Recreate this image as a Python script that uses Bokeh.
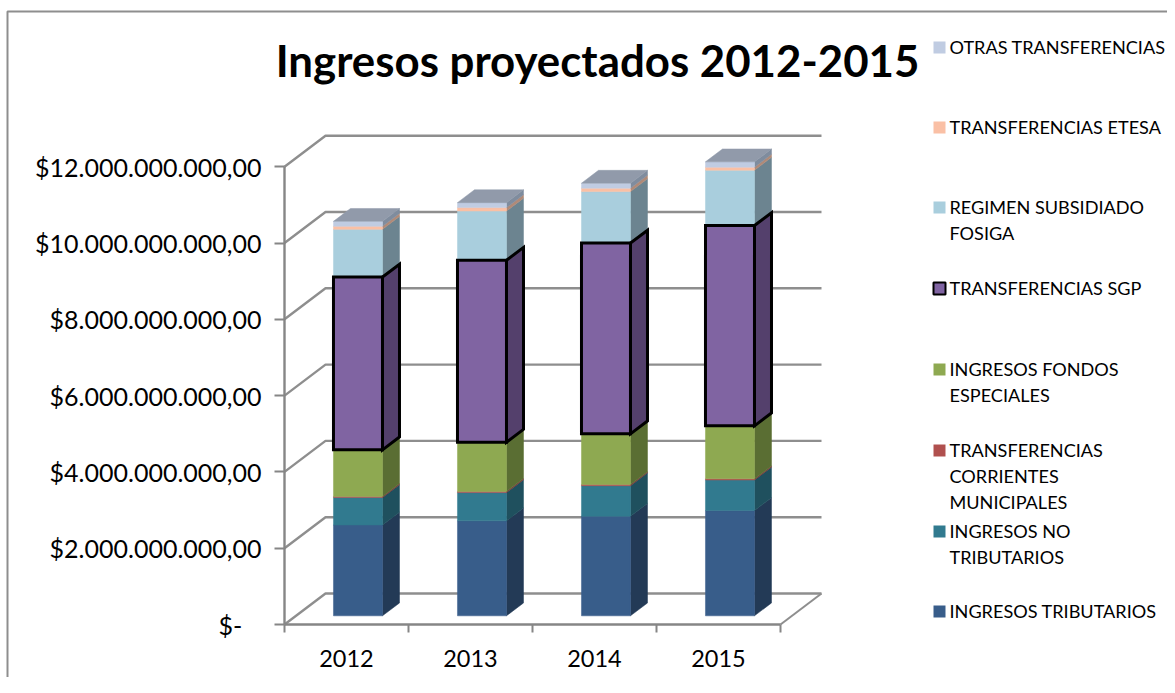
from bokeh.plotting import figure
from bokeh.models import FixedTicker, Range1d, Label
from bokeh.embed import file_html
from bokeh.resources import INLINE

years = ["2012", "2013", "2014", "2015"]
ingresos_tributarios = [2.38e9, 2.49e9, 2.61e9, 2.76e9]
ingresos_no_tributarios = [0.72e9, 0.74e9, 0.80e9, 0.80e9]
transf_corrientes = [0.03e9, 0.03e9, 0.03e9, 0.03e9]
fondos_especiales = [1.22e9, 1.29e9, 1.33e9, 1.39e9]
transf_sgp = [4.53e9, 4.77e9, 5.00e9, 5.25e9]
regimen_subsidiado = [1.25e9, 1.29e9, 1.35e9, 1.45e9]
transf_etesa = [0.08e9, 0.09e9, 0.09e9, 0.08e9]
otras_transf = [0.13e9, 0.13e9, 0.13e9, 0.14e9]
y_ticks = [0, 2e9, 4e9, 6e9, 8e9, 10e9, 12e9]
y_labels = ["$-\u00a0\u00a0\u00a0", "$2.000.000.000,00", "$4.000.000.000,00", "$6.000.000.000,00",
            "$8.000.000.000,00", "$10.000.000.000,00", "$12.000.000.000,00"]
title_text = "Ingresos proyectados 2012-2015"

series = [
    (ingresos_tributarios, "#385D8A", "#233A56"),
    (ingresos_no_tributarios, "#317A8F", "#1F505E"),
    (transf_corrientes, "#B0504E", "#7A3836"),
    (fondos_especiales, "#8EA951", "#5A6E33"),
    (transf_sgp, "#8064A2", "#54406C"),
    (regimen_subsidiado, "#A9CEDD", "#6C8490"),
    (transf_etesa, "#FAC0A5", "#B08A78"),
    (otras_transf, "#C0CCE2", "#7F8C9E"),
]
top_color = "#919AAA"
grid_color = "#8E8E8E"

legend_items = [
    (["OTRAS TRANSFERENCIAS"], "#C0CCE2", None),
    (["TRANSFERENCIAS ETESA"], "#FAC0A5", None),
    (["REGIMEN SUBSIDIADO", "FOSIGA"], "#A9CEDD", None),
    (["TRANSFERENCIAS SGP"], "#8064A2", "black"),
    (["INGRESOS FONDOS", "ESPECIALES"], "#8EA951", None),
    (["TRANSFERENCIAS", "CORRIENTES", "MUNICIPALES"], "#B0504E", None),
    (["INGRESOS NO", "TRIBUTARIOS"], "#317A8F", None),
    (["INGRESOS TRIBUTARIOS"], "#385D8A", None),
]
legend_y = [46, 126, 206, 287, 368, 449, 530, 610]
LINE_H = 26

# pixel geometry, measured from the top left of the picture
W, H = 1167, 677
PX_X0, PX_CAT = 346.0, 124.0     # x of first category, spacing
PX_Y0, PX_VAL = 624.0, 38.15e-9  # y of zero, px per peso
DX_CAT = 41.0 / PX_CAT           # full depth in category units
DY_VAL = 31.0 / PX_VAL           # full depth in value units
BAR_HALF = 24.5 / PX_CAT
D0, D1 = 0.28, 0.695             # bar depth extent

def px_x(px):
    return (px - PX_X0) / PX_CAT

def px_y(py):
    return (PX_Y0 - py) / PX_VAL

p = figure(width=W, height=H, output_backend="svg", toolbar_location=None,
           x_range=Range1d(px_x(0), px_x(W)),
           y_range=Range1d(px_y(H), px_y(0)),
           min_border=0, background_fill_color="white", border_fill_color="white")
p.outline_line_color = None
p.grid.visible = False

# chart frame
p.line([px_x(7), px_x(7), px_x(W)], [px_y(H), px_y(11), px_y(11)],
       line_color=grid_color, line_width=2)

# walls
left, right = -0.5, 3.5
for v in y_ticks:
    p.line([left, left + DX_CAT, right + DX_CAT],
           [v, v + DY_VAL, v + DY_VAL], line_color=grid_color, line_width=2.4)
p.line([right, right + DX_CAT], [0, DY_VAL], line_color=grid_color, line_width=2)

def pt(i, v, d, side):
    return i + side * BAR_HALF + d * DX_CAT, v + d * DY_VAL

def quad(points):
    return [q[0] for q in points], [q[1] for q in points]

base = [0.0] * len(years)
drawn = []
for values, front, side in series:
    drawn.append((list(base), values, front, side))
    base = [b + v for b, v in zip(base, values)]

def draw(b, values, front, side, lc, lw):
    for i in range(len(years)):
        lo, hi = b[i], b[i] + values[i]
        xs, ys = quad([pt(i, lo, D0, 1), pt(i, lo, D1, 1), pt(i, hi, D1, 1), pt(i, hi, D0, 1)])
        p.patch(xs, ys, fill_color=side, line_color=lc or side, line_width=lw, line_join="miter")
        xs, ys = quad([pt(i, lo, D0, -1), pt(i, lo, D0, 1), pt(i, hi, D0, 1), pt(i, hi, D0, -1)])
        p.patch(xs, ys, fill_color=front, line_color=lc or front, line_width=lw, line_join="miter")

for k, (b, values, front, side) in enumerate(drawn):
    if k != 4:
        draw(b, values, front, side, None, 0.5)

for i in range(len(years)):
    hi = base[i]
    xs, ys = quad([pt(i, hi, D0, -1), pt(i, hi, D0, 1), pt(i, hi, D1, 1), pt(i, hi, D1, -1)])
    p.patch(xs, ys, fill_color=top_color, line_color=top_color, line_width=0.5)

b, values, front, side = drawn[4]
draw(b, values, front, side, "black", 3)

# axes
FONT = "Lato"
GREY = "#868686"
ya = p.yaxis[0]
ya.fixed_location = left
ya.bounds = (0, 12e9)
ya.ticker = FixedTicker(ticks=y_ticks)
ya.major_label_overrides = {float(t) if t else 0: l for t, l in zip(y_ticks, y_labels)}
ya.major_tick_out = 10
ya.major_tick_in = 0
ya.minor_tick_line_color = None
ya.major_tick_line_color = GREY
ya.major_tick_line_width = 2
ya.axis_line_color = GREY
ya.axis_line_width = 2.4
ya.major_label_text_font = FONT
ya.major_label_text_font_size = "25px"
ya.major_label_text_color = "black"
ya.major_label_standoff = 13

xa = p.xaxis[0]
xa.fixed_location = 0
xa.bounds = (left, right)
xa.ticker = FixedTicker(ticks=list(range(len(years))),
                        minor_ticks=[left + i for i in range(len(years) + 1)])
xa.major_label_overrides = {i: y for i, y in enumerate(years)}
xa.major_tick_line_color = None
xa.major_tick_out = 0
xa.major_tick_in = 0
xa.minor_tick_out = 8
xa.minor_tick_in = 0
xa.minor_tick_line_color = GREY
xa.minor_tick_line_width = 2
xa.axis_line_color = GREY
xa.axis_line_width = 2.4
xa.major_label_text_font = FONT
xa.major_label_text_font_size = "23.5px"
xa.major_label_text_color = "black"
xa.major_label_standoff = 17

# title
p.add_layout(Label(x=px_x(597), y=px_y(59), text=title_text, text_font=FONT,
                   text_font_style="bold", text_font_size="43.8px", text_color="black",
                   text_align="center", text_baseline="middle"))

# legend
for (lines, color, outline), y0 in zip(legend_items, legend_y):
    p.scatter([px_x(939)], [px_y(y0 + 1)], marker="square", size=12, fill_color=color,
              line_color=outline or color, line_width=2 if outline else 0)
    for j, text in enumerate(lines):
        p.add_layout(Label(x=px_x(949), y=px_y(y0 + j * LINE_H), text=text, text_font=FONT,
                           text_font_size="18.1px", text_color="black",
                           text_align="left", text_baseline="middle"))

open("out.html", "w").write(file_html(p, INLINE))
